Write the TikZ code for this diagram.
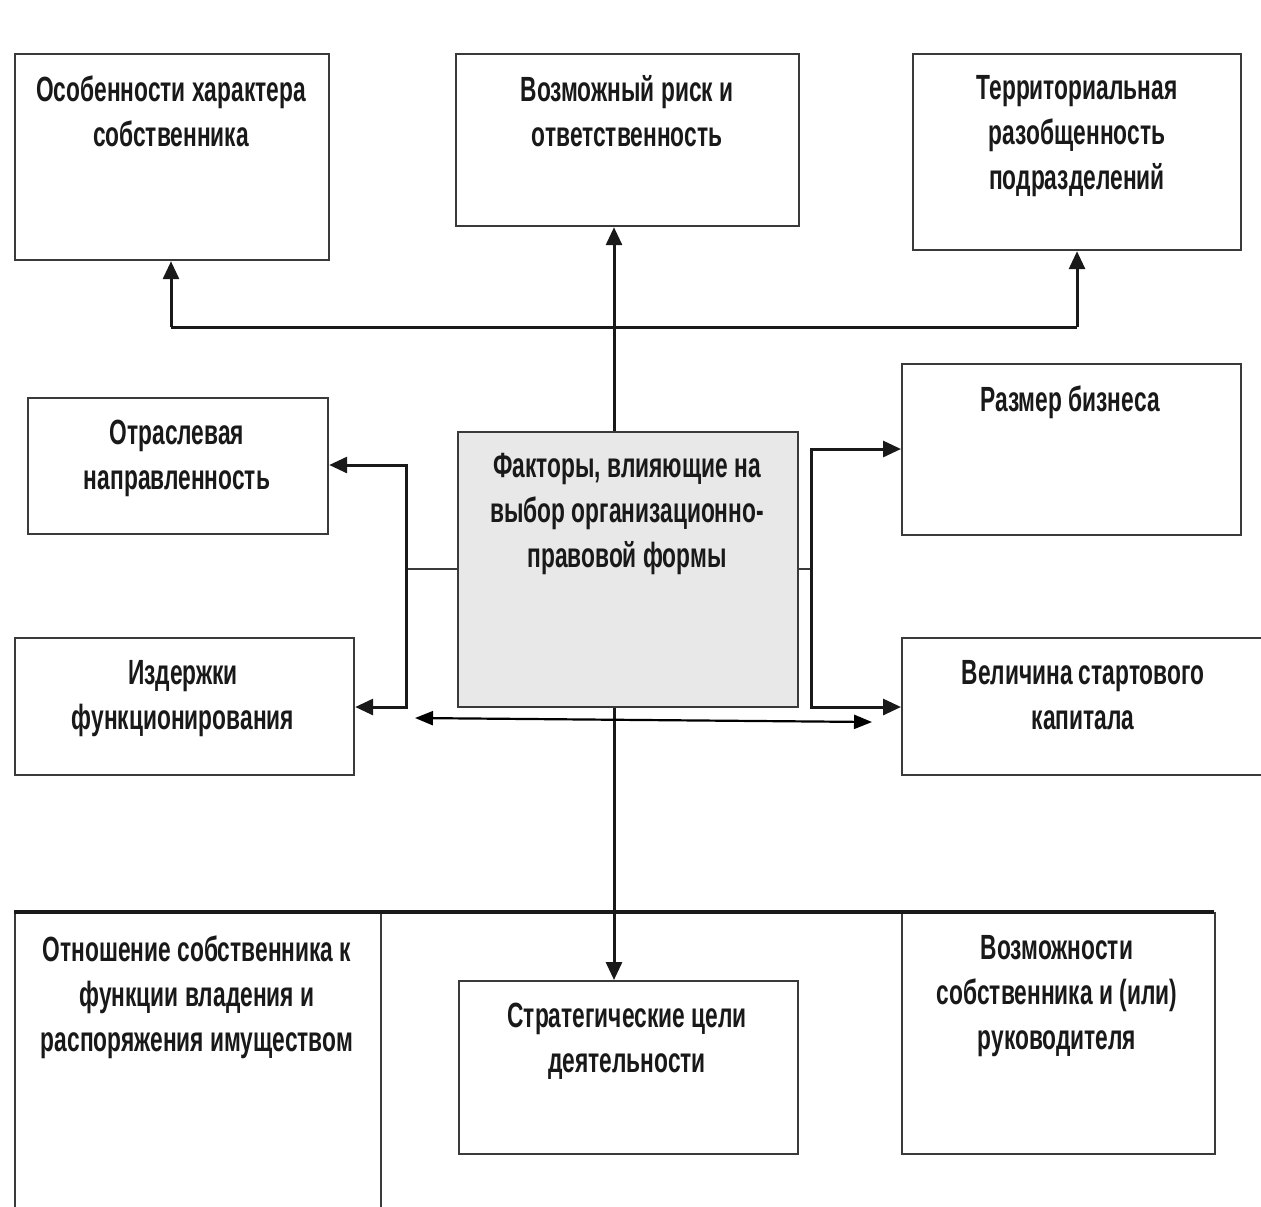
\documentclass[tikz,border=0pt]{standalone}
\usepackage{fontspec}
\setmainfont[FakeStretch=0.65]{Liberation Sans}
\usetikzlibrary{arrows.meta}
\definecolor{edge}{HTML}{3A3A3A}
\definecolor{centerfill}{HTML}{E8E8E8}
\tikzset{
  box/.style={draw=edge, line width=1.1pt, fill=white, rectangle, inner sep=0pt, anchor=north west},
  lbl/.style={anchor=north, align=center, inner sep=0pt, font=\bfseries\fontsize{17.5}{22.5}\selectfont, text=black!90},
  conn/.style={line width=1.5pt, draw=black!90, -{Triangle[length=9pt,width=8pt]}},
  plain/.style={line width=1.5pt, draw=black!90},
  thin/.style={line width=1.1pt, draw=edge},
  dbl/.style={line width=1.1pt, draw=black, {Triangle[length=9pt,width=7pt]}-{Triangle[length=9pt,width=7pt]}}
}
\begin{document}
\begin{tikzpicture}[x=0.5pt,y=-0.5pt]
\useasboundingbox (0,0) rectangle (1261,1206);
% boxes
\node[box, minimum width=157pt, minimum height=103pt] (b1) at (14,53) {};
\node[box, minimum width=171.5pt, minimum height=86pt] (b2) at (455,53) {};
\node[box, minimum width=164pt, minimum height=98pt] (b3) at (912,53) {};
\node[box, minimum width=150pt, minimum height=68pt] (b4) at (27,397) {};
\node[box, minimum width=169.5pt, minimum height=85.5pt] (b5) at (901,363) {};
\node[box, fill=centerfill, minimum width=170pt, minimum height=137.5pt] (c) at (457,431) {};
\node[box, minimum width=169.5pt, minimum height=68.5pt] (b6) at (14,637) {};
\node[box, minimum width=185pt, minimum height=68.5pt] (b7) at (901,637) {};
\node[box, minimum width=183pt, minimum height=160pt] (b8) at (14,912) {};
\node[box, minimum width=169.5pt, minimum height=86.5pt] (b9) at (458,980) {};
\node[box, minimum width=156.5pt, minimum height=120.5pt] (b10) at (901,912) {};
% labels
\node[lbl] (t1) at (171,75) {Особенности характера\\собственника};
\node[lbl] (t2) at (627,75) {Возможный риск и\\ответственность};
\node[lbl] (t3) at (1077,75) {Территориальная\\разобщенность\\подразделений};
\node[lbl] (t4) at (177,420) {Отраслевая\\направленность};
\node[lbl] (t5) at (1070,385) {Размер бизнеса};
\node[lbl] (tc) at (627,453) {Факторы, влияющие на\\выбор организационно-\\правовой формы};
\node[lbl] (t6) at (183,660) {Издержки\\функционирования};
\node[lbl] (t7) at (1083,660) {Величина стартового\\капитала};
\node[lbl] (t8) at (197,935) {Отношение собственника к\\функции владения и\\распоряжения имуществом};
\node[lbl] (t9) at (627,1003) {Стратегические цели\\деятельности};
\node[lbl] (t10) at (1057,935) {Возможности\\собственника и (или)\\руководителя};
% coordinates
\coordinate (up) at (614,327);
\coordinate (hl) at (171,327);
\coordinate (hr) at (1077,327);
\coordinate (lj) at (406,569);
\coordinate (rj) at (811,569);
\coordinate (da) at (415,718);
\coordinate (db) at (872,722);
\coordinate (bl) at (14,912);
\coordinate (br) at (1214,912);
% connectors
\draw[conn] (c.north -| up) -- (b2.south -| up);
\draw[plain] (hl) -- (hr);
\draw[conn] (hl) -- (hl |- b1.south);
\draw[conn] (hr) -- (hr |- b3.south);
\draw[thin] (c.west |- lj) -- (lj);
\draw[conn] (lj) -- (lj |- 0,465) -- (b4.east |- 0,465);
\draw[conn] (lj) -- (lj |- 0,707) -- (b6.east |- 0,707);
\draw[thin] (c.east |- rj) -- (rj);
\draw[conn] (rj) -- (rj |- 0,449) -- (b5.west |- 0,449);
\draw[conn] (rj) -- (rj |- 0,707) -- (b7.west |- 0,707);
\draw[line width=2pt, draw=black!90] (bl) -- (br);
\draw[conn] (c.south -| up) -- (b9.north -| up);
\draw[dbl] (da) -- (db);
\end{tikzpicture}
\end{document}
